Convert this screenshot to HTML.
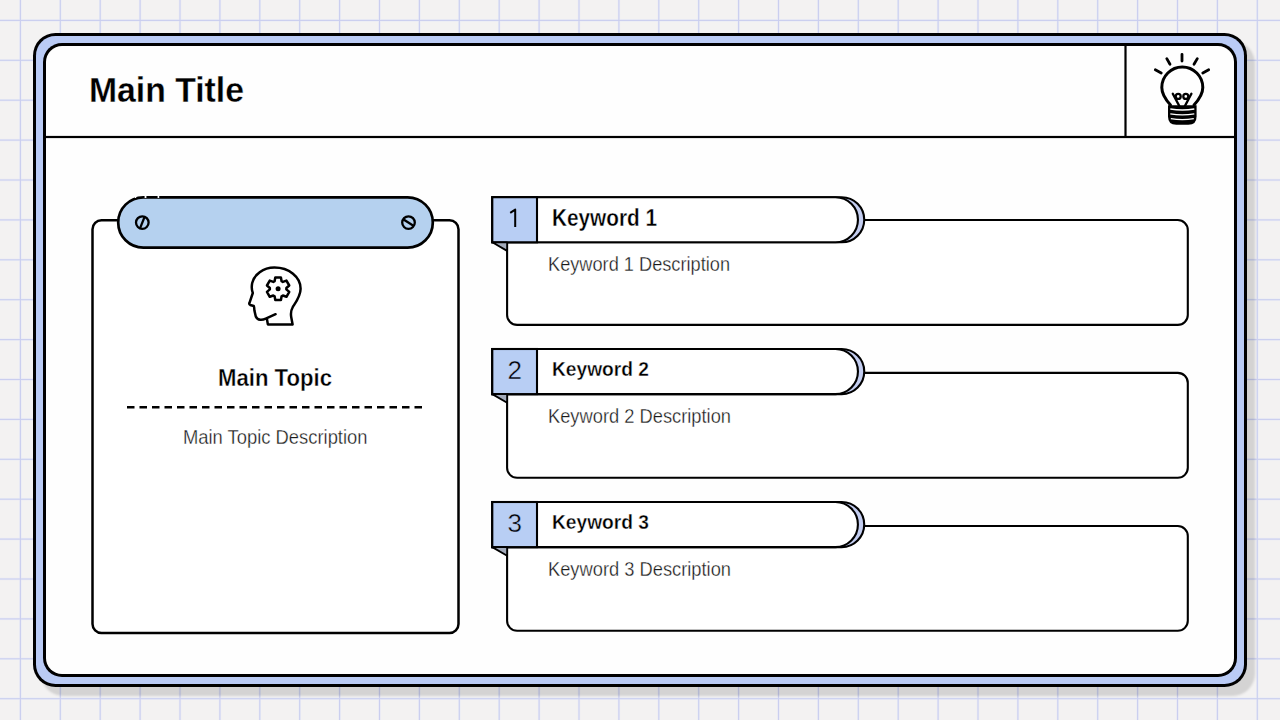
<!DOCTYPE html>
<html><head><meta charset="utf-8">
<style>
html,body{margin:0;padding:0;background:#f3f2f2;}
body{width:1280px;height:720px;overflow:hidden;position:relative;font-family:"Liberation Sans",sans-serif;}
svg{position:absolute;left:0;top:0;font-family:"Liberation Sans",sans-serif;}
</style></head><body>
<svg width="1280" height="720" viewBox="0 0 1280 720">
<defs><filter id="blur1" x="-5%" y="-5%" width="110%" height="110%"><feGaussianBlur stdDeviation="1.2"/></filter></defs>
<rect x="0" y="0" width="1280" height="720" fill="#f3f2f2"/>
<g fill="#caceef">
<rect x="19.2" y="0" width="2.4" height="720" fill="#eaecf6"/>
<rect x="59.1" y="0" width="2.4" height="720" fill="#eaecf6"/>
<rect x="99.0" y="0" width="2.4" height="720" fill="#eaecf6"/>
<rect x="138.9" y="0" width="2.4" height="720" fill="#eaecf6"/>
<rect x="178.8" y="0" width="2.4" height="720" fill="#eaecf6"/>
<rect x="218.7" y="0" width="2.4" height="720" fill="#eaecf6"/>
<rect x="258.6" y="0" width="2.4" height="720" fill="#eaecf6"/>
<rect x="298.5" y="0" width="2.4" height="720" fill="#eaecf6"/>
<rect x="338.4" y="0" width="2.4" height="720" fill="#eaecf6"/>
<rect x="378.3" y="0" width="2.4" height="720" fill="#eaecf6"/>
<rect x="418.2" y="0" width="2.4" height="720" fill="#eaecf6"/>
<rect x="458.1" y="0" width="2.4" height="720" fill="#eaecf6"/>
<rect x="498.0" y="0" width="2.4" height="720" fill="#eaecf6"/>
<rect x="537.9" y="0" width="2.4" height="720" fill="#eaecf6"/>
<rect x="577.8" y="0" width="2.4" height="720" fill="#eaecf6"/>
<rect x="617.7" y="0" width="2.4" height="720" fill="#eaecf6"/>
<rect x="657.6" y="0" width="2.4" height="720" fill="#eaecf6"/>
<rect x="697.5" y="0" width="2.4" height="720" fill="#eaecf6"/>
<rect x="737.4" y="0" width="2.4" height="720" fill="#eaecf6"/>
<rect x="777.3" y="0" width="2.4" height="720" fill="#eaecf6"/>
<rect x="817.2" y="0" width="2.4" height="720" fill="#eaecf6"/>
<rect x="857.1" y="0" width="2.4" height="720" fill="#eaecf6"/>
<rect x="897.0" y="0" width="2.4" height="720" fill="#eaecf6"/>
<rect x="936.9" y="0" width="2.4" height="720" fill="#eaecf6"/>
<rect x="976.8" y="0" width="2.4" height="720" fill="#eaecf6"/>
<rect x="1016.7" y="0" width="2.4" height="720" fill="#eaecf6"/>
<rect x="1056.6" y="0" width="2.4" height="720" fill="#eaecf6"/>
<rect x="1096.5" y="0" width="2.4" height="720" fill="#eaecf6"/>
<rect x="1136.4" y="0" width="2.4" height="720" fill="#eaecf6"/>
<rect x="1176.3" y="0" width="2.4" height="720" fill="#eaecf6"/>
<rect x="1216.2" y="0" width="2.4" height="720" fill="#eaecf6"/>
<rect x="1256.1" y="0" width="2.4" height="720" fill="#eaecf6"/>
<rect x="0" y="19.2" width="1280" height="2.4" fill="#eaecf6"/>
<rect x="0" y="59.1" width="1280" height="2.4" fill="#eaecf6"/>
<rect x="0" y="99.0" width="1280" height="2.4" fill="#eaecf6"/>
<rect x="0" y="138.9" width="1280" height="2.4" fill="#eaecf6"/>
<rect x="0" y="178.8" width="1280" height="2.4" fill="#eaecf6"/>
<rect x="0" y="218.7" width="1280" height="2.4" fill="#eaecf6"/>
<rect x="0" y="258.6" width="1280" height="2.4" fill="#eaecf6"/>
<rect x="0" y="298.5" width="1280" height="2.4" fill="#eaecf6"/>
<rect x="0" y="338.4" width="1280" height="2.4" fill="#eaecf6"/>
<rect x="0" y="378.3" width="1280" height="2.4" fill="#eaecf6"/>
<rect x="0" y="418.2" width="1280" height="2.4" fill="#eaecf6"/>
<rect x="0" y="458.1" width="1280" height="2.4" fill="#eaecf6"/>
<rect x="0" y="498.0" width="1280" height="2.4" fill="#eaecf6"/>
<rect x="0" y="537.9" width="1280" height="2.4" fill="#eaecf6"/>
<rect x="0" y="577.8" width="1280" height="2.4" fill="#eaecf6"/>
<rect x="0" y="617.7" width="1280" height="2.4" fill="#eaecf6"/>
<rect x="0" y="657.6" width="1280" height="2.4" fill="#eaecf6"/>
<rect x="0" y="697.5" width="1280" height="2.4" fill="#eaecf6"/>
<rect x="19.85" y="0" width="1.1" height="720"/>
<rect x="59.75" y="0" width="1.1" height="720"/>
<rect x="99.65" y="0" width="1.1" height="720"/>
<rect x="139.55" y="0" width="1.1" height="720"/>
<rect x="179.45" y="0" width="1.1" height="720"/>
<rect x="219.35" y="0" width="1.1" height="720"/>
<rect x="259.25" y="0" width="1.1" height="720"/>
<rect x="299.15" y="0" width="1.1" height="720"/>
<rect x="339.05" y="0" width="1.1" height="720"/>
<rect x="378.95" y="0" width="1.1" height="720"/>
<rect x="418.85" y="0" width="1.1" height="720"/>
<rect x="458.75" y="0" width="1.1" height="720"/>
<rect x="498.65" y="0" width="1.1" height="720"/>
<rect x="538.55" y="0" width="1.1" height="720"/>
<rect x="578.45" y="0" width="1.1" height="720"/>
<rect x="618.35" y="0" width="1.1" height="720"/>
<rect x="658.25" y="0" width="1.1" height="720"/>
<rect x="698.15" y="0" width="1.1" height="720"/>
<rect x="738.05" y="0" width="1.1" height="720"/>
<rect x="777.95" y="0" width="1.1" height="720"/>
<rect x="817.85" y="0" width="1.1" height="720"/>
<rect x="857.75" y="0" width="1.1" height="720"/>
<rect x="897.65" y="0" width="1.1" height="720"/>
<rect x="937.55" y="0" width="1.1" height="720"/>
<rect x="977.45" y="0" width="1.1" height="720"/>
<rect x="1017.35" y="0" width="1.1" height="720"/>
<rect x="1057.25" y="0" width="1.1" height="720"/>
<rect x="1097.15" y="0" width="1.1" height="720"/>
<rect x="1137.05" y="0" width="1.1" height="720"/>
<rect x="1176.95" y="0" width="1.1" height="720"/>
<rect x="1216.85" y="0" width="1.1" height="720"/>
<rect x="1256.75" y="0" width="1.1" height="720"/>
<rect x="0" y="19.85" width="1280" height="1.1"/>
<rect x="0" y="59.75" width="1280" height="1.1"/>
<rect x="0" y="99.65" width="1280" height="1.1"/>
<rect x="0" y="139.55" width="1280" height="1.1"/>
<rect x="0" y="179.45" width="1280" height="1.1"/>
<rect x="0" y="219.35" width="1280" height="1.1"/>
<rect x="0" y="259.25" width="1280" height="1.1"/>
<rect x="0" y="299.15" width="1280" height="1.1"/>
<rect x="0" y="339.05" width="1280" height="1.1"/>
<rect x="0" y="378.95" width="1280" height="1.1"/>
<rect x="0" y="418.85" width="1280" height="1.1"/>
<rect x="0" y="458.75" width="1280" height="1.1"/>
<rect x="0" y="498.65" width="1280" height="1.1"/>
<rect x="0" y="538.55" width="1280" height="1.1"/>
<rect x="0" y="578.45" width="1280" height="1.1"/>
<rect x="0" y="618.35" width="1280" height="1.1"/>
<rect x="0" y="658.25" width="1280" height="1.1"/>
<rect x="0" y="698.15" width="1280" height="1.1"/>
</g>
<!-- frame -->
<rect x="41" y="41" width="1214" height="655" rx="22.5" fill="#000" fill-opacity="0.13" filter="url(#blur1)"/>
<rect x="33" y="33" width="1214" height="654" rx="22.5" fill="#000"/>
<rect x="36" y="36" width="1208" height="648" rx="19.5" fill="#bacbf5"/>
<rect x="43" y="43" width="1194" height="634" rx="19" fill="#000"/>
<rect x="46" y="46" width="1188" height="628" rx="16" fill="#fefefe"/>
<rect x="46" y="135.9" width="1188" height="2.2" fill="#000"/>
<rect x="1124.4" y="46" width="2.2" height="91" fill="#000"/>

<!-- lightbulb -->
<g fill="none" stroke="#000" stroke-width="2.8" stroke-linecap="round">
<path d="M1182,54.3 V61 M1166.8,58.6 L1170,64.2 M1197.3,58.6 L1194,64.2 M1155.3,69.8 L1161.2,73 M1208.7,69.8 L1202.8,73"/>
<path stroke-width="3" d="M1170.5,105 C1165,99 1161.8,94 1161.8,87.5 A20.5,20.5 0 1 1 1202.8,87.5 C1202.8,94 1199.5,99 1194,105"/>
<path stroke-width="2.4" d="M1172.8,93.8 L1179.3,106 M1191.4,93.8 L1184.9,106"/>
<circle cx="1178.2" cy="96.4" r="2.5" stroke-width="2.3"/>
<circle cx="1185.8" cy="96.4" r="2.5" stroke-width="2.3"/>
</g>
<path d="M1168,105.3 H1196.6 V116.5 Q1196.6,124.8 1188.3,124.8 H1176.3 Q1168,124.8 1168,116.5 Z" fill="#000"/>
<g fill="none" stroke="#fff" stroke-width="1.3">
<path d="M1170.3,109 Q1182.3,111 1194.3,109"/>
<path d="M1170.3,113.8 Q1182.3,115.8 1194.3,113.8"/>
<path d="M1170.8,118.6 Q1182.3,120.6 1193.8,118.6"/>
</g>

<!-- left card -->
<rect x="92.5" y="220.2" width="366" height="412.7" rx="9" fill="#fff" stroke="#000" stroke-width="2.5"/>
<rect x="118.2" y="197.3" width="314.6" height="50.3" rx="25.15" fill="#b5d1ef" stroke="#000" stroke-width="2.7"/>
<g stroke="#fefefe" stroke-width="3.4">
<path d="M135,196.4 h1.2 M144.6,196.4 h1.8 M157.6,196.4 h1.6"/>
</g>
<g fill="none" stroke="#000" stroke-width="2.3">
<circle cx="142.3" cy="222.6" r="6.3"/>
<path d="M139.9,228.6 L144.7,216.6"/>
<circle cx="408.5" cy="222.6" r="6.3"/>
<path d="M403.2,219.3 L413.8,225.9"/>
</g>
<!-- head icon -->
<g fill="none" stroke="#000" stroke-width="2.5" stroke-linecap="round" stroke-linejoin="round">
<path d="M275.6,314.2 L265.8,318.6 C262.5,320.2 257.5,320.8 255.8,316.5 L254.4,310.5 Q254.2,306.8 253.8,306 L250.2,305 C249.2,304.5 249.2,303.5 249.5,302.8 L252.8,293 C251.6,290 251.6,286 252.2,283 C254,275 263,267.6 274.4,267.6 C289,267.6 300.6,277 300.6,288.7 C300.6,296 296,302 292.8,307 C290.8,310.5 290.7,314 291.2,317 L292.6,324.4 H267.85 L266.9,318.8"/>
<path d="M274.59,281.18 L275.29,277.44 L280.91,277.44 L281.61,281.18 L282.86,281.90 L286.44,280.64 L289.25,285.50 L286.37,287.98 L286.37,289.42 L289.25,291.90 L286.44,296.76 L282.86,295.50 L281.61,296.22 L280.91,299.96 L275.29,299.96 L274.59,296.22 L273.34,295.50 L269.76,296.76 L266.95,291.90 L269.83,289.42 L269.83,287.98 L266.95,285.50 L269.76,280.64 L273.34,281.90 Z"/>
</g>
<circle cx="278.1" cy="288.7" r="2.5" fill="#000"/>
<line x1="127" y1="407.2" x2="422.5" y2="407.2" stroke="#000" stroke-width="2.5" stroke-dasharray="7.5 5"/>

<g fill="#000">
<text x="89" y="101.5" font-size="35.2" font-weight="bold" stroke="#fff" stroke-width="0.3" textLength="155" lengthAdjust="spacingAndGlyphs">Main Title</text>
<text x="218" y="386" font-size="23.2" font-weight="bold" stroke="#fff" stroke-width="0.35" textLength="114" lengthAdjust="spacingAndGlyphs">Main Topic</text>
<text x="183" y="443.5" font-size="19.9" fill="#1a1a1a" stroke="#fff" stroke-width="0.3" textLength="184.5" lengthAdjust="spacingAndGlyphs">Main Topic Description</text>

<!-- row 1 -->
<rect x="507.1" y="220.0" width="680.7" height="104.90" rx="10" fill="#fff" stroke="#000" stroke-width="2.1"/>
<path d="M492.3,197.2 H841.7 A22.55,22.55 0 0 1 841.7,242.30 H492.3 Z" fill="#c3cdf0" stroke="#000" stroke-width="2.1"/>
<path d="M492.3,197.2 H835.4 A22.55,22.55 0 0 1 835.4,242.30 H492.3 Z" fill="#fff" stroke="#000" stroke-width="2.1"/>
<rect x="492.3" y="197.2" width="44.7" height="45.1" fill="#b8cef4" stroke="#000" stroke-width="2.1"/>
<path d="M492.3,242.30 L507.1,242.30 L507.1,250.90 Z" fill="#a3abbb" stroke="#000" stroke-width="1.8" stroke-linejoin="round"/>
<text x="552" y="225.5" font-size="23.0" font-weight="bold" stroke="#fff" stroke-width="0.35" textLength="105" lengthAdjust="spacingAndGlyphs">Keyword 1</text>
<text x="548" y="270.5" font-size="20.1" fill="#1a1a1a" stroke="#fff" stroke-width="0.3" textLength="182" lengthAdjust="spacingAndGlyphs">Keyword 1 Description</text>

<path d="M515.2,226.9 V209.6 L510.2,212.8" fill="none" stroke="#000" stroke-width="2" stroke-linejoin="round"/>

<!-- row 2 -->
<rect x="507.1" y="372.9" width="680.7" height="104.90" rx="10" fill="#fff" stroke="#000" stroke-width="2.1"/>
<path d="M492.3,349.0 H841.7 A22.55,22.55 0 0 1 841.7,394.10 H492.3 Z" fill="#c3cdf0" stroke="#000" stroke-width="2.1"/>
<path d="M492.3,349.0 H835.4 A22.55,22.55 0 0 1 835.4,394.10 H492.3 Z" fill="#fff" stroke="#000" stroke-width="2.1"/>
<rect x="492.3" y="349.0" width="44.7" height="45.1" fill="#b8cef4" stroke="#000" stroke-width="2.1"/>
<path d="M492.3,394.10 L507.1,394.10 L507.1,402.70 Z" fill="#a3abbb" stroke="#000" stroke-width="1.8" stroke-linejoin="round"/>
<text x="552" y="375.7" font-size="19.7" font-weight="bold" stroke="#fff" stroke-width="0.35" textLength="97" lengthAdjust="spacingAndGlyphs">Keyword 2</text>
<text x="548" y="423.3" font-size="20.1" fill="#1a1a1a" stroke="#fff" stroke-width="0.3" textLength="183" lengthAdjust="spacingAndGlyphs">Keyword 2 Description</text>

<text x="514.7" y="378.9" font-size="26" stroke="#b8cef4" stroke-width="0.4" text-anchor="middle">2</text>

<!-- row 3 -->
<rect x="507.1" y="526.05" width="680.7" height="104.75" rx="10" fill="#fff" stroke="#000" stroke-width="2.1"/>
<path d="M492.3,502.0 H841.7 A22.55,22.55 0 0 1 841.7,547.10 H492.3 Z" fill="#c3cdf0" stroke="#000" stroke-width="2.1"/>
<path d="M492.3,502.0 H835.4 A22.55,22.55 0 0 1 835.4,547.10 H492.3 Z" fill="#fff" stroke="#000" stroke-width="2.1"/>
<rect x="492.3" y="502.0" width="44.7" height="45.1" fill="#b8cef4" stroke="#000" stroke-width="2.1"/>
<path d="M492.3,547.10 L507.1,547.10 L507.1,555.70 Z" fill="#a3abbb" stroke="#000" stroke-width="1.8" stroke-linejoin="round"/>
<text x="552" y="528.7" font-size="19.7" font-weight="bold" stroke="#fff" stroke-width="0.35" textLength="97" lengthAdjust="spacingAndGlyphs">Keyword 3</text>
<text x="548" y="576.3" font-size="20.1" fill="#1a1a1a" stroke="#fff" stroke-width="0.3" textLength="183" lengthAdjust="spacingAndGlyphs">Keyword 3 Description</text>

<text x="514.7" y="531.9" font-size="26" stroke="#b8cef4" stroke-width="0.4" text-anchor="middle">3</text>
</g>
</svg>
</body></html>
